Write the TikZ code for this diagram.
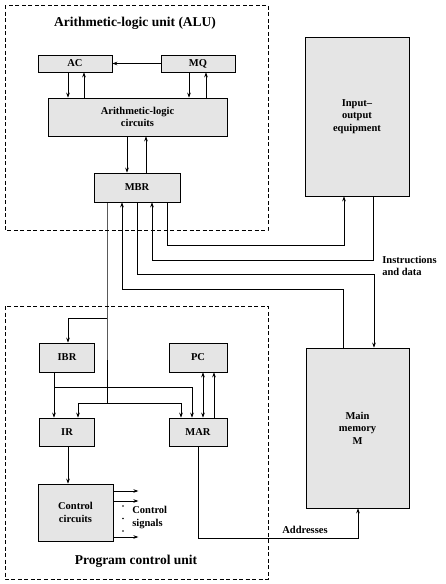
\documentclass[tikz,border=0pt]{standalone}
\usepackage{fontspec}
\setmainfont{Liberation Serif}
\usetikzlibrary{calc,arrows.meta}

\begin{document}
\begin{tikzpicture}[x=1pt,y=-1pt,line width=0.7pt,
	>={Stealth[length=5pt,width=3.6pt]},
	reg/.style={draw,fill=black!10,align=center,inner sep=0pt,
		font=\bfseries\fontsize{10.5}{12.5}\selectfont},
	unit/.style={draw,dash pattern=on 4pt off 2.5pt},
	lbl/.style={align=left,inner sep=0pt,font=\bfseries\fontsize{10.5}{12.5}\selectfont},
	ttl/.style={inner sep=0pt,font=\bfseries\fontsize{13.5}{16}\selectfont}]
	\useasboundingbox (0,0) rectangle (446,584);
	\draw[unit] (5,5) rectangle (268,230);
	\draw[unit] (5,306) rectangle (268,579);
	\node[ttl] (alu) at (135,23) {Arithmetic-logic unit (ALU)};
	\node[ttl] (pcu) at (136,561) {Program control unit};
	\node[reg,minimum width=74pt,minimum height=17pt] (AC) at (75,63.5) {AC};
	\node[reg,minimum width=74pt,minimum height=17pt] (MQ) at (198,63.5) {MQ};
	\node[reg,minimum width=179pt,minimum height=38pt] (ALC) at (137.5,117) {Arithmetic-logic\\circuits};
	\node[reg,minimum width=86pt,minimum height=29pt] (MBR) at (137,187.5) {MBR};
	\node[reg,minimum width=104pt,minimum height=159pt] (IO) at (357,116.5) {Input--\\output\\equipment};
	\node[reg,minimum width=103pt,minimum height=160pt] (MEM) at (357.5,428) {Main\\memory\\M};
	\node[reg,minimum width=55pt,minimum height=29pt] (IBR) at (67,357.5) {IBR};
	\node[reg,minimum width=58pt,minimum height=29pt] (PC) at (198,357.5) {PC};
	\node[reg,minimum width=55pt,minimum height=28pt] (IR) at (67,432) {IR};
	\node[reg,minimum width=58pt,minimum height=28pt] (MAR) at (198,432) {MAR};
	\node[reg,minimum width=75pt,minimum height=57pt] (CC) at (75.5,512.5) {Control\\circuits};
	\draw[->] (MQ.west) -- (AC.east);
	\draw[->] ([xshift=-7pt]AC.south) -- ([xshift=-7pt]AC.south |- ALC.north);
	\draw[->] ([xshift=9pt]AC.south |- ALC.north) -- ([xshift=9pt]AC.south);
	\draw[->] ([xshift=-9pt]MQ.south) -- ([xshift=-9pt]MQ.south |- ALC.north);
	\draw[->] ([xshift=8pt]MQ.south |- ALC.north) -- ([xshift=8pt]MQ.south);
	\draw[->] ([xshift=-10pt]MBR.north |- ALC.south) -- ([xshift=-10pt]MBR.north);
	\draw[->] ([xshift=9pt]MBR.north) -- ([xshift=9pt]MBR.north |- ALC.south);
	\draw[->] ([xshift=30pt]MBR.south) -- ++(0,43) -| ([xshift=-13pt]IO.south);
	\draw[->] ([xshift=16pt]IO.south) -- ++(0,64) -| ([xshift=15pt]MBR.south);
	\draw[->] (MBR.south) -- ++(0,72) -| ([xshift=16.5pt]MEM.north);
	\draw[->] ([xshift=-14.5pt]MEM.north) -- ++(0,-58) -| ([xshift=-15pt]MBR.south);
	\draw ([xshift=-30pt]MBR.south) -- ++(0,116) coordinate (j1) -- ++(0,85) coordinate (j2);
	\draw[->] (j1) -| ([xshift=1pt]IBR.north);
	\draw[->] (j2) -| ([xshift=11pt]IR.north);
	\draw[->] (j2) -| ([xshift=-17pt]MAR.north);
	\draw[->] ([xshift=-13pt]IBR.south) -- ([xshift=-13pt]IR.north);
	\draw[->] ([xshift=-13pt]IBR.south) -- ++(0,15) -| ([xshift=-6pt]MAR.north);
	\draw[<->] ([xshift=5pt]PC.south) -- ([xshift=5pt]MAR.north);
	\draw[->] ([xshift=16pt]MAR.north) -- ([xshift=16pt]PC.south);
	\draw[->] ([xshift=1pt]IR.south) -- ([xshift=1pt]IR.south |- CC.north);
	\draw[->] (MAR.south) -- ++(0,92) -| ([xshift=0.5pt]MEM.south);
	\foreach \s in {21.5,11.5,-24.5}
		\draw[->] ([yshift=\s pt]CC.east) -- ++(25,0);
	\foreach \d in {506,518.5,531}
		\fill (123,\d) circle (0.9pt);
	\node[lbl,anchor=west] (sig) at (132,517.5) {Control\\signals};
	\node[lbl] (addr) at (305,530) {Addresses};
	\node[lbl,anchor=west] (ind) at (382,266) {Instructions\\and data};
\end{tikzpicture}
\end{document}
